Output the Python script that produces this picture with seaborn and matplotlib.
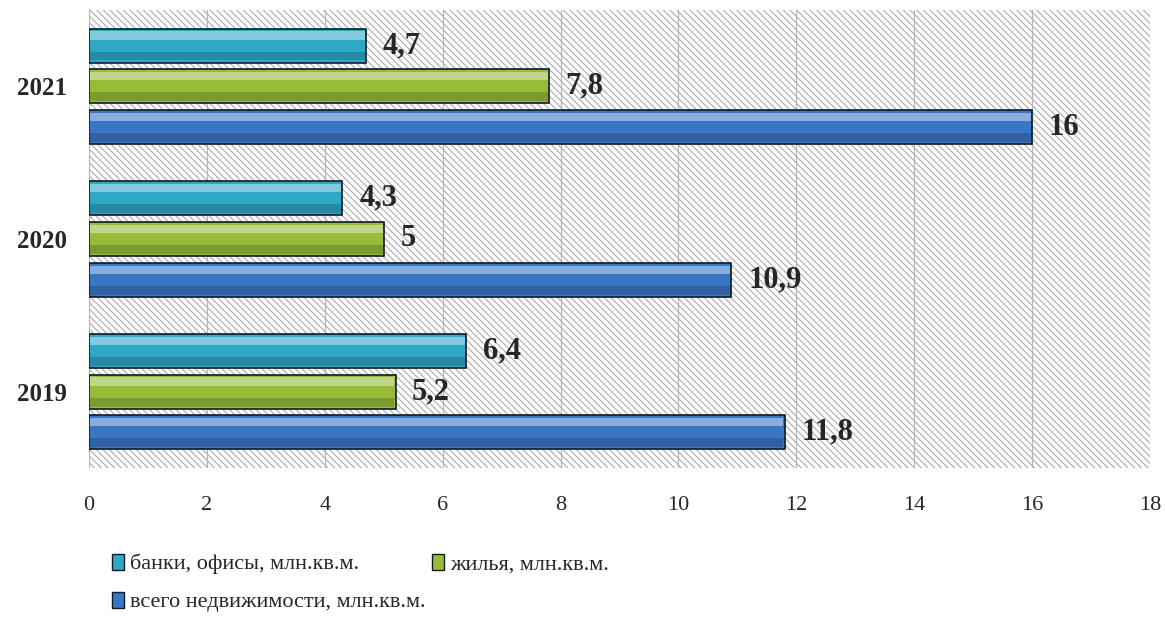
import matplotlib
matplotlib.use("Agg")
import matplotlib.pyplot as plt
import seaborn as sns
import pandas as pd
from matplotlib.patches import Patch, Rectangle
import matplotlib.colors as mcolors

years = ["2021", "2020", "2019"]
series = ["банки, офисы, млн.кв.м.", "жилья, млн.кв.м.", "всего недвижимости, млн.кв.м."]
banks = [4.7, 4.3, 6.4]
housing = [7.8, 5.0, 5.2]
total = [16, 10.9, 11.8]
xticks = [0, 2, 4, 6, 8, 10, 12, 14, 16, 18]
colors = ["#2FA8C8", "#98BC38", "#3A76C6"]

rows = []
for s, vals in zip(series, [banks, housing, total]):
    for y, v in zip(years, vals):
        rows.append({"year": y, "series": s, "value": v})
df = pd.DataFrame(rows)

sns.set_style("white")
plt.rcParams["font.family"] = ["Liberation Serif", "DejaVu Serif"]
plt.rcParams["hatch.color"] = "#a0a0a0"
plt.rcParams["hatch.linewidth"] = 0.7

fig = plt.figure(figsize=(11.65, 6.23), dpi=100)
ax = fig.add_axes([89 / 1165, 1 - 468 / 623, (1150 - 89) / 1165, (468 - 10) / 623])

sns.barplot(data=df, y="year", x="value", hue="series", order=years,
            hue_order=series, palette=colors, saturation=1, orient="h",
            width=0.8, gap=0.17, edgecolor="#0e1a26", linewidth=1.2, ax=ax,
            legend=False, zorder=3)

# glossy shading on each bar (derived from the drawn bars)
for cont, c in zip(ax.containers, colors):
    rgb = mcolors.to_rgb(c)
    light = tuple(min(1, v + (1 - v) * 0.4) for v in rgb)
    dark = tuple(v * 0.82 for v in rgb)
    for b in cont:
        x0, y0, w, h = b.get_x(), b.get_y(), b.get_width(), b.get_height()
        ax.add_patch(Rectangle((x0 + 0.02, y0 + h * 0.08), w - 0.04, h * 0.24,
                               facecolor=light, edgecolor="none", zorder=4))
        ax.add_patch(Rectangle((x0 + 0.02, y0 + h * 0.68), w - 0.04, h * 0.26,
                               facecolor=dark, edgecolor="none", zorder=4))

ax.set_xlim(0, 18)
ax.set_ylim(2.5, -0.5)
ax.set_xticks(xticks)
ax.set_xticklabels([str(t) for t in xticks], fontsize=16)
ax.set_xlabel("")
ax.set_ylabel("")
for lab in ax.get_yticklabels():
    lab.set_fontweight("bold")
    lab.set_fontsize(18)
ax.tick_params(axis="both", length=0)
ax.tick_params(axis="x", pad=20)
ax.tick_params(axis="y", pad=16)

ax.patch.set_facecolor("white")
ax.patch.set_hatch("\\\\\\\\\\")
ax.patch.set_edgecolor("#a0a0a0")
for sp in ax.spines.values():
    sp.set_visible(False)
ax.grid(axis="x", color="#b5b5b5", linewidth=0.9, zorder=1)
ax.set_axisbelow(True)

for cont in ax.containers:
    labels = [f"{b.get_width():g}".replace(".", ",") for b in cont]
    ax.bar_label(cont, labels=labels, padding=12, fontsize=22, fontweight="bold",
                 zorder=5)

handles = [Patch(facecolor=c, edgecolor="#0e1a26") for c in colors]
common = dict(frameon=False, fontsize=16, handlelength=0.55, handleheight=0.75,
              handletextpad=0.25, borderpad=0, borderaxespad=0)
leg1 = fig.legend(handles[:2], series[:2], loc="center left",
                  bbox_to_anchor=(112 / 1165, 1 - 564 / 623), ncol=2,
                  columnspacing=3.3, **common)
leg2 = fig.legend(handles[2:], series[2:], loc="center left",
                  bbox_to_anchor=(112 / 1165, 1 - 602 / 623), ncol=1, **common)

fig.savefig("out.png", dpi=100)
